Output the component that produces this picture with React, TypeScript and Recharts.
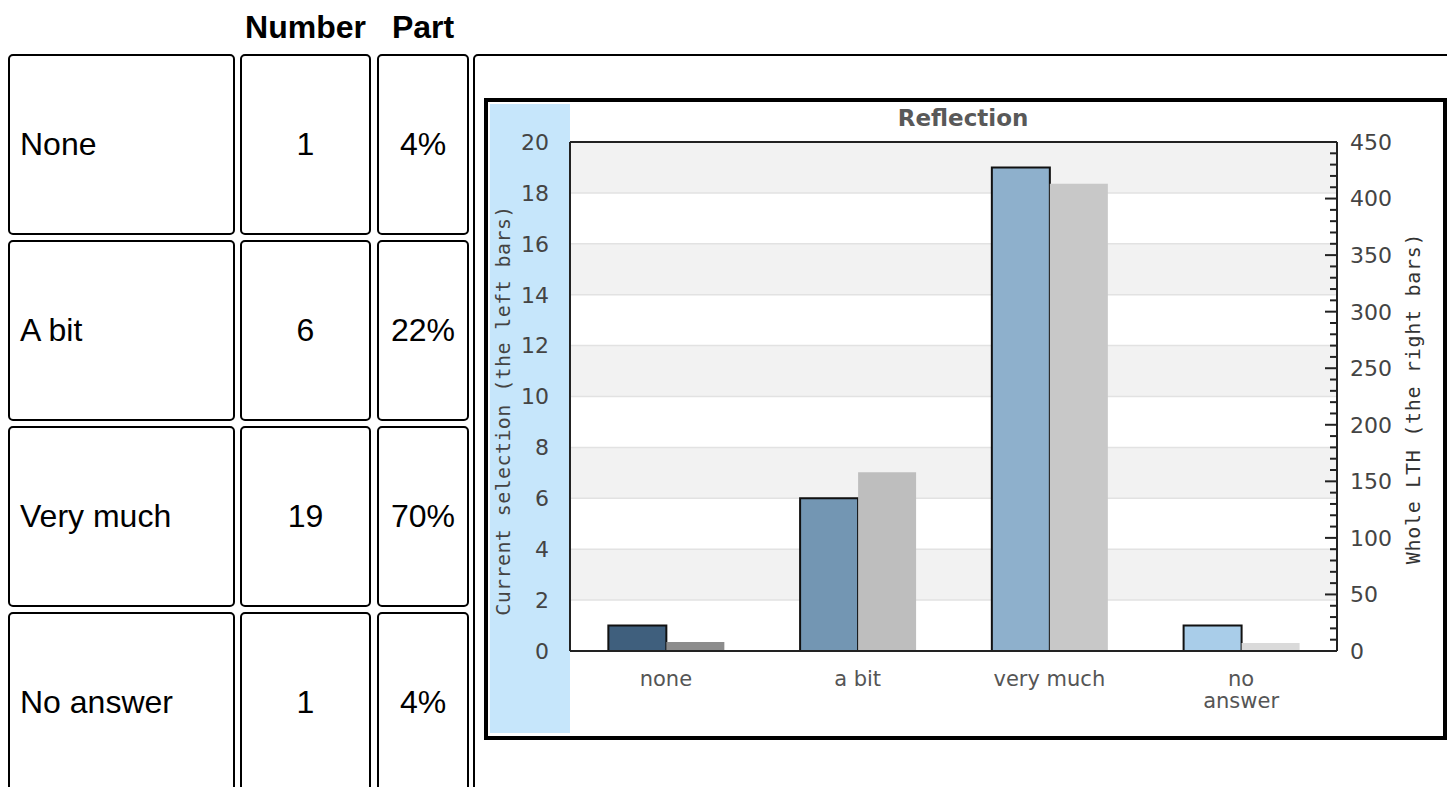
import React from 'react';
import {
  BarChart,
  Bar,
  XAxis,
  YAxis,
  CartesianGrid,
  Cell,
  ReferenceLine,
} from 'recharts';

// chart data
const categories = ['none', 'a bit', 'very much', 'no\nanswer'];
const currentSelection = [1, 6, 19, 1];
const wholeLTH = [8, 158, 413, 7];
const leftColors = ['#3f5f7d', '#7396b3', '#8eb0cc', '#a9cde9'];
const rightColors = ['#8c8c8c', '#bebebe', '#c8c8c8', '#dadada'];

// axis ticks
const leftTicks = [0, 2, 4, 6, 8, 10, 12, 14, 16, 18, 20];
const rightMajorTicks = [0, 50, 100, 150, 200, 250, 300, 350, 400, 450];
const rightTicks = Array.from({ length: 46 }, (_, i) => i * 10);

// table
const tableLabels = ['None', 'A bit', 'Very much', 'No answer'];
const tableParts = ['4%', '22%', '70%', '4%'];

const data = categories.map((name, i) => ({
  name,
  current: currentSelection[i],
  whole: wholeLTH[i],
}));

const CHART_FONT = '"DejaVu Sans", Verdana, sans-serif';
const MONO_FONT = '"DejaVu Sans Mono", monospace';

const RightTick = (props: any) => {
  const { x, y, payload } = props;
  const v = payload.value;
  const major = rightMajorTicks.includes(v);
  return (
    <g>
      <line x1={x - (major ? 12 : 7)} x2={x} y1={y} y2={y} stroke="#222" strokeWidth={2} />
      {major && (
        <text x={x + 13} y={y} dy="0.36em" textAnchor="start" fontSize={22} fill="#444" fontFamily={CHART_FONT}>
          {v}
        </text>
      )}
    </g>
  );
};

const CategoryTick = (props: any) => {
  const { x, y, payload } = props;
  const lines = String(payload.value).split('\n');
  return (
    <text x={x} y={y} textAnchor="middle" fontSize={21} fill="#555" fontFamily={CHART_FONT}>
      {lines.map((l, i) => (
        <tspan key={i} x={x} dy={i === 0 ? 35 : 22}>
          {l}
        </tspan>
      ))}
    </text>
  );
};

const cellBox = (left: number, top: number, width: number, height: number): React.CSSProperties => ({
  position: 'absolute',
  left,
  top,
  width,
  height,
  border: '2px solid #000',
  borderRadius: 5,
  boxSizing: 'border-box',
  display: 'flex',
  alignItems: 'center',
});

const colX = [8, 240, 377];
const colW = [227, 131, 92];
const rowY = [54, 240, 426, 612];
const rowH = 181;

export default function App() {
  return (
    <div
      style={{
        position: 'absolute',
        left: 0,
        top: 0,
        width: 1447,
        height: 787,
        overflow: 'hidden',
        background: '#fff',
        fontFamily: '"Liberation Sans", Arial, sans-serif',
        fontSize: 32,
        color: '#000',
      }}
    >
      {/* header */}
      <div style={{ position: 'absolute', left: colX[1], top: 9, width: colW[1], lineHeight: '36px', textAlign: 'center', fontWeight: 'bold' }}>
        Number
      </div>
      <div style={{ position: 'absolute', left: colX[2], top: 9, width: colW[2], lineHeight: '36px', textAlign: 'center', fontWeight: 'bold' }}>
        Part
      </div>

      {/* table rows */}
      {tableLabels.map((label, i) => (
        <React.Fragment key={label}>
          <div style={{ ...cellBox(colX[0], rowY[i], colW[0], rowH), paddingLeft: 10 }}>{label}</div>
          <div style={{ ...cellBox(colX[1], rowY[i], colW[1], rowH), justifyContent: 'center' }}>
            {currentSelection[i]}
          </div>
          <div style={{ ...cellBox(colX[2], rowY[i], colW[2], rowH), justifyContent: 'center' }}>
            {tableParts[i]}
          </div>
        </React.Fragment>
      ))}

      {/* chart cell */}
      <div style={{ ...cellBox(473, 54, 1000, 800) }} />

      {/* chart frame */}
      <div
        style={{
          position: 'absolute',
          left: 484,
          top: 98,
          width: 963,
          height: 642,
          border: '4px solid #000',
          boxSizing: 'border-box',
          background: '#fff',
        }}
      >
        <div style={{ position: 'absolute', left: 2, top: 2, width: 80, height: 629, background: '#c6e6fb' }} />
        <div
          style={{
            position: 'absolute',
            left: 275,
            top: 4,
            width: 400,
            textAlign: 'center',
            fontFamily: CHART_FONT,
            fontWeight: 'bold',
            fontSize: 23,
            lineHeight: '24px',
            color: '#595959',
          }}
        >
          Reflection
        </div>
        <div style={{ position: 'absolute', left: 0, top: 0 }}>
          <BarChart
            width={955}
            height={634}
            data={data}
            margin={{ top: 40, right: 0, bottom: 0, left: 0 }}
            barCategoryGap="20%"
            barGap={0}
          >
            <CartesianGrid
              yAxisId="left"
              vertical={false}
              stroke="#e2e2e2"
              strokeWidth={1.5}
              horizontalFill={['#f2f2f2', '#ffffff']}
            />
            <XAxis
              dataKey="name"
              height={85}
              interval={0}
              tickSize={0}
              tickMargin={0}
              axisLine={{ stroke: '#222', strokeWidth: 2 }}
              tickLine={false}
              tick={<CategoryTick />}
            />
            <YAxis
              yAxisId="left"
              orientation="left"
              width={82}
              domain={[0, 20]}
              ticks={leftTicks}
              interval={0}
              tickSize={0}
              tickMargin={21}
              axisLine={{ stroke: '#222', strokeWidth: 2 }}
              tickLine={false}
              tick={{ fontSize: 22, fill: '#444', fontFamily: CHART_FONT }}
              label={{
                content: (p: any) => {
                  const vb = p.viewBox || { x: 0, y: 40, width: 82, height: 509 };
                  const tx = vb.x + 15;
                  const ty = vb.y + vb.height / 2 + 14;
                  return (
                    <text
                      x={tx}
                      y={ty}
                      transform={`rotate(-90 ${tx} ${ty})`}
                      textAnchor="middle"
                      dy="0.35em"
                      fontSize={20}
                      letterSpacing={0.4}
                      fill="#444"
                      fontFamily={MONO_FONT}
                    >
                      Current selection (the left bars)
                    </text>
                  );
                },
              }}
            />
            <YAxis
              yAxisId="right"
              orientation="right"
              width={106}
              domain={[0, 450]}
              ticks={rightTicks}
              interval={0}
              tickSize={0}
              tickMargin={0}
              axisLine={{ stroke: '#222', strokeWidth: 2 }}
              tickLine={false}
              tick={<RightTick />}
              label={{
                content: (p: any) => {
                  const vb = p.viewBox || { x: 849, y: 40, width: 106, height: 509 };
                  const tx = vb.x + vb.width - 30;
                  const ty = vb.y + vb.height / 2 + 2;
                  return (
                    <text
                      x={tx}
                      y={ty}
                      transform={`rotate(-90 ${tx} ${ty})`}
                      textAnchor="middle"
                      dy="0.35em"
                      fontSize={20}
                      letterSpacing={0.7}
                      fill="#333"
                      fontFamily={MONO_FONT}
                    >
                      Whole LTH (the right bars)
                    </text>
                  );
                },
              }}
            />
            <ReferenceLine yAxisId="left" y={20} stroke="#222" strokeWidth={2} />
            <Bar yAxisId="left" dataKey="current" stroke="#111" strokeWidth={2} isAnimationActive={false}>
              {data.map((_, i) => (
                <Cell key={i} fill={leftColors[i]} />
              ))}
            </Bar>
            <Bar yAxisId="right" dataKey="whole" isAnimationActive={false}>
              {data.map((_, i) => (
                <Cell key={i} fill={rightColors[i]} />
              ))}
            </Bar>
          </BarChart>
        </div>
      </div>
    </div>
  );
}
